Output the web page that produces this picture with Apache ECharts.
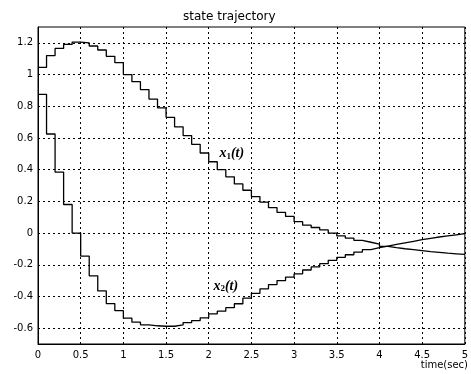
<!DOCTYPE html>
<html>
<head>
<meta charset="utf-8">
<script src="https://cdn.jsdelivr.net/npm/echarts@6/dist/echarts.min.js"></script>
<style>
  html, body { margin: 0; background: #fff; }
  #chart { width: 471px; height: 374px; }
</style>
</head>
<body>
<div id="chart"></div>
<script>
// 采样周期 0.1s，零阶保持
const sampleTime = 0.1;
const endTime = 5;

// x1(t) 每个采样区间的保持值
const x1Held = [
  1.045, 1.12, 1.165, 1.19, 1.205, 1.2, 1.18, 1.155, 1.115, 1.075,
  1.0, 0.955, 0.905, 0.845, 0.79, 0.73, 0.67, 0.615, 0.56, 0.505,
  0.45, 0.4, 0.355, 0.31, 0.27, 0.23, 0.195, 0.16, 0.13, 0.105,
  0.072, 0.05, 0.035, 0.02, 0.0, -0.018, -0.032, -0.046, -0.058, -0.07,
  -0.084, -0.092, -0.099, -0.105, -0.111, -0.117, -0.122, -0.127, -0.131, -0.135
];

// x2(t) 每个采样区间的保持值
const x2Held = [
  0.875, 0.625, 0.385, 0.18, 0.0, -0.145, -0.27, -0.365, -0.445, -0.49,
  -0.537, -0.562, -0.579, -0.585, -0.588, -0.588, -0.58, -0.565, -0.552, -0.535,
  -0.51, -0.493, -0.471, -0.446, -0.41, -0.38, -0.352, -0.325, -0.3, -0.278,
  -0.257, -0.233, -0.214, -0.193, -0.172, -0.153, -0.137, -0.12, -0.104, -0.092,
  -0.082, -0.072, -0.062, -0.052, -0.042, -0.033, -0.025, -0.018, -0.011, -0.004
];

const xTicks = { min: 0, max: 5, interval: 0.5 };
const yTicks = { min: -0.7, max: 1.3, interval: 0.1 };

// 把保持值变成 [t, v]，末尾补一个点到 5s
function holdPoints(values) {
  const pts = values.map((v, i) => [i * sampleTime, v]);
  pts.push([endTime, values[values.length - 1]]);
  return pts;
}

const labelFont = { fontFamily: 'DejaVu Sans', fontSize: 10, color: '#000' };
const curveStyle = { color: '#000', width: 1.3 };
const gridLine = { show: true, lineStyle: { color: '#000', type: [2, 3], width: 1 } };

const annotRich = {
  v: { fontFamily: 'Liberation Serif', fontStyle: 'italic', fontWeight: 'bold', fontSize: 14, color: '#000' },
  s: { fontFamily: 'Liberation Serif', fontWeight: 'bold', fontSize: 9, color: '#000', verticalAlign: 'bottom', padding: [6, 0, 0, 0] }
};

const chart = echarts.init(document.getElementById('chart'));

chart.setOption({
  backgroundColor: '#fff',
  animation: false,
  title: {
    text: 'state trajectory',
    left: 178,
    top: 6,
    textStyle: { fontFamily: 'DejaVu Sans', fontSize: 12, fontWeight: 'normal', color: '#000' }
  },
  grid: {
    left: 38, right: 6, top: 27, bottom: 30,
    show: true, borderColor: '#000', borderWidth: 1
  },
  xAxis: {
    type: 'value',
    min: xTicks.min, max: xTicks.max, interval: xTicks.interval,
    axisLine: { show: true, onZero: false, lineStyle: { color: '#000' } },
    axisTick: { show: false },
    axisLabel: { ...labelFont, margin: 6 },
    splitLine: gridLine
  },
  yAxis: {
    type: 'value',
    min: yTicks.min, max: yTicks.max, interval: yTicks.interval,
    axisLine: { show: true, lineStyle: { color: '#000' } },
    axisTick: { show: false },
    axisLabel: {
      ...labelFont,
      margin: 5,
      formatter: v => (Math.abs(Math.round(v * 10)) % 2 === 0 ? String(parseFloat(v.toFixed(1))) : '')
    },
    // 隔一条显示网格线，得到 0.2 的网格
    splitLine: { show: true, lineStyle: { color: ['transparent', '#000'], type: [2, 3], width: 1 } }
  },
  graphic: [
    {
      type: 'text', right: 3, top: 360,
      style: { text: 'time(sec)', fontFamily: 'DejaVu Sans', fontSize: 10, fill: '#000' }
    }
  ],
  series: [
    {
      name: 'x1',
      type: 'line',
      step: 'end',
      showSymbol: false,
      lineStyle: curveStyle,
      data: holdPoints(x1Held),
      markPoint: {
        symbol: 'circle', symbolSize: 0,
        label: { show: true, formatter: '{v|x}{s|1}{v|(t)}', rich: annotRich },
        data: [{ coord: [2.27, 0.5] }]
      }
    },
    {
      name: 'x2',
      type: 'line',
      step: 'end',
      showSymbol: false,
      lineStyle: curveStyle,
      data: holdPoints(x2Held),
      markPoint: {
        symbol: 'circle', symbolSize: 0,
        label: { show: true, formatter: '{v|x}{s|2}{v|(t)}', rich: annotRich },
        data: [{ coord: [2.2, -0.335] }]
      }
    }
  ]
});
</script>
</body>
</html>
